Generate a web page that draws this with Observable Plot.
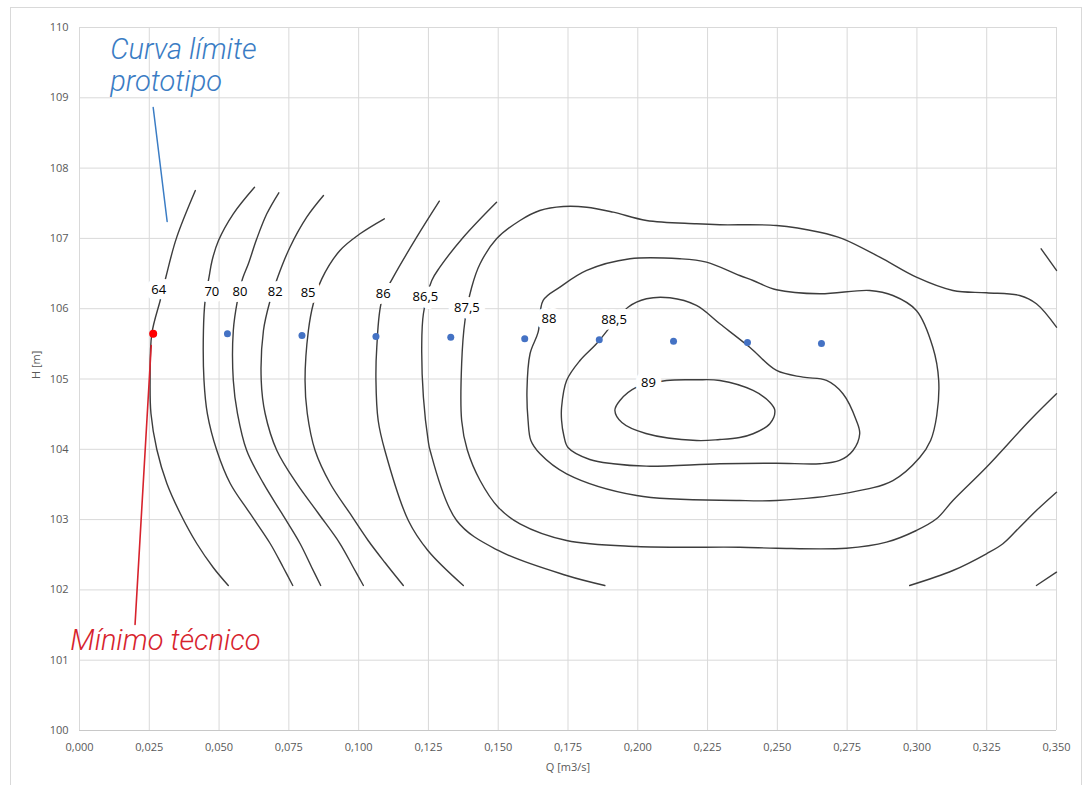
<!DOCTYPE html>
<html><head><meta charset="utf-8">
<script src="https://cdn.jsdelivr.net/npm/d3@7"></script>
<script src="https://cdn.jsdelivr.net/npm/@observablehq/plot@0.6"></script>
<style>
body{margin:0;background:#fff;}
#wrap{position:relative;width:1086px;height:785px;overflow:hidden;background:#fff;}
#border{position:absolute;left:10px;top:7px;width:1072px;height:800px;border:1px solid #d9d9d9;box-sizing:border-box;}
#chart{position:absolute;left:0;top:0;}
</style></head><body>
<div id="wrap"><div id="border"></div><div id="chart"></div></div>
<script>
// ---- axes ----
const xTicks = [0,0.025,0.05,0.075,0.1,0.125,0.15,0.175,0.2,0.225,0.25,0.275,0.3,0.325,0.35];
const yTicks = [100,101,102,103,104,105,106,107,108,109,110];
const xTitle = "Q [m3/s]";
const yTitle = "H [m]";

// ---- operating points ----
const opQ = [0.0264,0.0530,0.0797,0.1062,0.1330,0.1595,0.1862,0.2128,0.2393,0.2658];
const opH = [105.643,105.643,105.619,105.605,105.595,105.572,105.558,105.538,105.519,105.505];
const minQ = [0.0264];
const minH = [105.643];

// ---- contour curves (Q, H) ----
const c64 = [[0.0415,107.68],[0.0347,107.0],[0.0310,106.458],[0.0290,106.131],[0.0259,105.643],[0.0253,104.997],[0.0256,104.509],[0.0277,103.997],[0.0313,103.514],[0.0361,103.087],[0.0420,102.66],[0.0479,102.319],[0.0533,102.063]];
const c70 = [[0.0627,107.728],[0.0551,107.35],[0.0498,106.97],[0.0475,106.686],[0.0464,106.448],[0.0450,106.115],[0.0444,105.69],[0.0446,104.979],[0.0458,104.509],[0.0492,103.983],[0.0540,103.514],[0.0611,103.087],[0.0683,102.66],[0.0730,102.319],[0.0764,102.063]];
const c80 = [[0.0714,107.649],[0.0671,107.35],[0.0635,106.994],[0.0605,106.639],[0.0584,106.425],[0.0566,106.117],[0.0551,105.69],[0.0551,104.979],[0.0566,104.509],[0.0599,103.983],[0.0659,103.514],[0.0725,103.087],[0.0790,102.66],[0.0832,102.319],[0.0864,102.063]];
const c82 = [[0.0874,107.61],[0.0814,107.302],[0.0754,106.875],[0.0710,106.448],[0.0683,106.117],[0.0659,105.69],[0.0651,104.979],[0.0665,104.509],[0.0707,103.983],[0.0778,103.514],[0.0856,103.087],[0.0933,102.66],[0.0981,102.319],[0.1017,102.063]];
const c85 = [[0.1092,107.279],[0.1005,107.066],[0.0933,106.828],[0.0868,106.425],[0.0838,106.078],[0.0820,105.69],[0.0808,104.979],[0.0816,104.509],[0.0844,103.983],[0.0898,103.514],[0.0969,103.087],[0.1034,102.703],[0.1094,102.39],[0.1160,102.063]];
const c86 = [[0.1289,107.529],[0.1208,107.017],[0.1124,106.448],[0.1083,106.117],[0.1065,105.452],[0.1062,104.979],[0.1070,104.41],[0.1094,103.983],[0.1178,102.987],[0.1248,102.561],[0.1375,102.063]];
const c865 = [[0.1494,107.515],[0.1375,107.017],[0.1291,106.59],[0.1262,106.401],[0.1232,105.928],[0.1226,105.452],[0.1232,104.741],[0.1249,104.125],[0.1256,103.983],[0.1351,102.987],[0.1500,102.561],[0.1745,102.205],[0.1882,102.063]];
const c875 = [[0.350,105.737],[0.3428,106.07],[0.3368,106.188],[0.3249,106.226],[0.3129,106.259],[0.2998,106.448],[0.2867,106.733],[0.2735,106.994],[0.2652,107.088],[0.2497,107.184],[0.2294,107.194],[0.2210,107.208],[0.2031,107.255],[0.1912,107.373],[0.1817,107.444],[0.1733,107.454],[0.1649,107.397],[0.1578,107.255],[0.1494,106.994],[0.1435,106.639],[0.1405,106.306],[0.1381,105.832],[0.1369,105.216],[0.1369,104.41],[0.1389,103.993],[0.1435,103.556],[0.1500,103.176],[0.1578,102.94],[0.1745,102.703],[0.1996,102.617],[0.2365,102.607],[0.2497,102.593],[0.2747,102.593],[0.2891,102.679],[0.2998,102.845],[0.3070,103.011],[0.3129,103.272],[0.3249,103.745],[0.3404,104.41],[0.350,104.79]];
const c88 = [[0.1661,106.117],[0.1721,106.306],[0.1817,106.544],[0.1972,106.71],[0.2151,106.71],[0.2246,106.662],[0.2365,106.472],[0.2413,106.401],[0.2497,106.269],[0.2652,106.212],[0.2831,106.259],[0.2914,106.188],[0.2998,105.975],[0.3057,105.452],[0.3078,104.979],[0.3071,104.481],[0.3049,104.125],[0.3010,103.883],[0.2914,103.556],[0.2747,103.376],[0.2497,103.272],[0.2365,103.272],[0.1996,103.343],[0.1745,103.652],[0.1649,103.94],[0.1617,104.125],[0.1607,104.41],[0.1603,104.837],[0.1614,105.359],[0.1643,105.666]];
const c885 = [[0.1965,106.021],[0.2031,106.141],[0.2115,106.155],[0.2210,106.046],[0.2294,105.785],[0.2401,105.452],[0.2497,105.121],[0.2592,105.026],[0.2676,104.979],[0.2735,104.79],[0.2783,104.41],[0.2795,104.221],[0.2771,103.983],[0.2723,103.841],[0.2652,103.794],[0.2497,103.802],[0.2294,103.794],[0.2031,103.76],[0.1912,103.794],[0.1828,103.855],[0.1750,104.026],[0.1735,104.196],[0.1727,104.41],[0.1727,104.599],[0.1745,104.979],[0.1793,105.263],[0.1852,105.501]];
const c89 = [[0.1996,104.883],[0.2103,104.979],[0.2210,104.989],[0.2294,104.979],[0.2413,104.837],[0.2473,104.67],[0.2491,104.552],[0.2473,104.363],[0.2413,104.221],[0.2365,104.168],[0.2294,104.139],[0.2211,104.125],[0.2029,104.225],[0.1943,104.381],[0.1918,104.552],[0.1936,104.694]];
const cR1 = [[0.3445,106.852],[0.350,106.544]];
const cR2 = [[0.2974,102.063],[0.3129,102.276],[0.3249,102.514],[0.3308,102.656],[0.3368,102.892],[0.3428,103.13],[0.350,103.39]];
const cR3 = [[0.3428,102.063],[0.350,102.252]];

const openCurves = [c64,c70,c80,c82,c85,c86,c865,c875,cR1,cR2,cR3];
const closedCurves = [c88,c885,c89];

// ---- contour labels ----
const labelText = ["64","70","80","82","85","86","86,5","87,5","88","88,5","89"];
const labelQ = [0.0284,0.0474,0.0575,0.0701,0.0819,0.1088,0.1239,0.1388,0.1682,0.1915,0.2038];
const labelH = [106.273,106.245,106.245,106.245,106.226,106.212,106.171,106.014,105.851,105.839,104.939];

// ---- annotations ----
const limLine = [[0.0264,108.862],[0.0314,107.24]];
const minLine = [[0.0199,101.508],[0.0257,105.477]];
const blueText = ["Curva límite","prototipo"];
const blueQ = [0.0110,0.0110];
const blueH = [109.555,109.094];
const redText = ["Mínimo técnico"];
const redQ = [-0.0033];
const redH = [101.148];

// ---- build ----
const ops = opQ.map((q,i)=>({q, h: opH[i]}));
const mins = minQ.map((q,i)=>({q, h: minH[i]}));
const labels = labelText.map((t,i)=>({t, q: labelQ[i], h: labelH[i]}));
const blues = blueText.map((t,i)=>({t, q: blueQ[i], h: blueH[i]}));
const reds = redText.map((t,i)=>({t, q: redQ[i], h: redH[i]}));
const fmt = d => d3.format(".3f")(d).replace(".", ",");
const tickFont = "'Open Sans', 'Liberation Sans', sans-serif";
const annFont = "Roboto, 'Liberation Sans', sans-serif";
const lineColor = "#3d3d3d";

const marks = [
  Plot.gridX(xTicks, {stroke: "#d9d9d9", strokeOpacity: 1, strokeWidth: 1}),
  Plot.gridY(yTicks, {stroke: "#d9d9d9", strokeOpacity: 1, strokeWidth: 1}),
  Plot.ruleY([100], {stroke: "#c8c8c8", strokeWidth: 1}),
  Plot.axisX(xTicks, {tickSize: 0, tickPadding: 13, tickFormat: fmt, label: null, fontSize: 11, fontFamily: tickFont}),
  Plot.axisY(yTicks, {tickSize: 0, tickPadding: 11, tickFormat: d => String(d), label: null, fontSize: 11, fontFamily: tickFont}),
  Plot.text([xTitle], {frameAnchor: "bottom", dy: 40, text: d => d, fontSize: 11, fontFamily: tickFont, fill: "#595959"}),
  Plot.text([yTitle], {frameAnchor: "left", dx: -42.6, rotate: -90, text: d => d, fontSize: 11, fontFamily: tickFont, fill: "#595959"}),
  ...openCurves.map(c => Plot.line(c, {x: d => d[0], y: d => d[1], curve: "catmull-rom", stroke: lineColor, strokeWidth: 1.4})),
  ...closedCurves.map(c => Plot.line(c, {x: d => d[0], y: d => d[1], curve: "catmull-rom-closed", stroke: lineColor, strokeWidth: 1.4})),
  Plot.text(labels, {x: "q", y: "h", text: "t", fontSize: 13, fontFamily: tickFont, fill: "#000", stroke: "white", strokeWidth: 12, strokeLinejoin: "round", paintOrder: "stroke"}),
  Plot.line(limLine, {x: d => d[0], y: d => d[1], stroke: "#3a7cc4", strokeWidth: 1.5}),
  Plot.line(minLine, {x: d => d[0], y: d => d[1], stroke: "#d7232d", strokeWidth: 1.6}),
  Plot.dot(ops, {x: "q", y: "h", r: 3.5, fill: "#4472c4", stroke: "none"}),
  Plot.dot(mins, {x: "q", y: "h", r: 4, fill: "#ff0000", stroke: "none"}),
  Plot.text(blues, {x: "q", y: "h", text: "t", textAnchor: "start", lineAnchor: "bottom", fontSize: 29, fontStyle: "italic", fontWeight: 300, fontFamily: annFont, fill: "#3a7cc4"}),
  Plot.text(reds, {x: "q", y: "h", text: "t", textAnchor: "start", lineAnchor: "bottom", fontSize: 29, fontStyle: "italic", fontWeight: 300, fontFamily: annFont, fill: "#d7232d"})
];

const chart = Plot.plot({
  width: 1086,
  height: 785,
  marginLeft: 79,
  marginRight: 30,
  marginTop: 27,
  marginBottom: 55,
  x: {domain: [0, 0.35]},
  y: {domain: [100, 110]},
  style: {background: "transparent", color: "#595959", fontFamily: tickFont, overflow: "visible"},
  marks
});
document.getElementById("chart").appendChild(chart);
</script>
</body></html>
